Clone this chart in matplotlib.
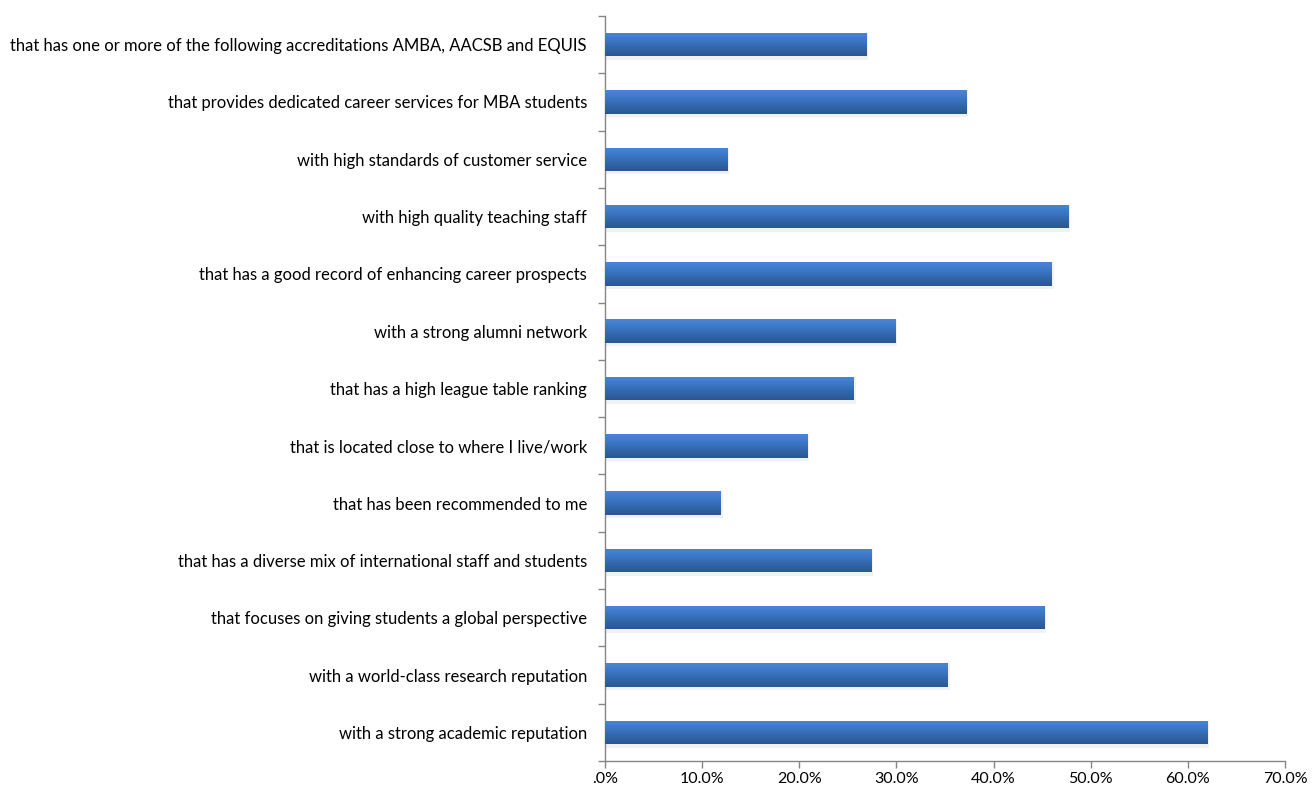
import numpy as np
import matplotlib
matplotlib.use('Agg')
import matplotlib.pyplot as plt
from matplotlib.ticker import FuncFormatter, FixedLocator

# categories listed bottom -> top
labels = [
    'with a strong academic reputation',
    'with a world-class research reputation',
    'that focuses on giving students a global perspective',
    'that has a diverse mix of international staff and students',
    'that has been recommended to me',
    'that is located close to where I live/work',
    'that has a high league table ranking',
    'with a strong alumni network',
    'that has a good record of enhancing career prospects',
    'with high quality teaching staff',
    'with high standards of customer service',
    'that provides dedicated career services for MBA students',
    'that has one or more of the following accreditations AMBA, AACSB and EQUIS',
]
values = [62.0, 35.3, 45.2, 27.4, 11.9, 20.8, 25.6, 29.9, 46.0, 47.7, 12.6, 37.2, 26.9]
xticks = [0, 10, 20, 30, 40, 50, 60, 70]

plt.rcParams['font.family'] = ['Lato', 'DejaVu Sans']

fig = plt.figure(figsize=(13.14, 7.9), dpi=100)
ax = fig.add_axes([0.4604, 0.0367, 0.5176, 0.943])

ypos = np.arange(len(labels))
bar_h = 0.41
bars = ax.barh(ypos, values, height=bar_h, color='#3a6fb8', zorder=2)

# gradient fill on each bar (light top, darker bottom), with a soft shadow
grad = np.linspace(0, 1, 64).reshape(-1, 1)
cmap = matplotlib.colors.LinearSegmentedColormap.from_list(
    'bar', ['#4a86d4', '#3c78c8', '#3266aa', '#2b5790'])
for b, v, y in zip(bars, values, ypos):
    ax.barh(y - 0.03, v + 0.2, height=bar_h + 0.06, color='#e4e4e4',
            alpha=0.5, zorder=1)
    im = ax.imshow(grad, cmap=cmap, aspect='auto', zorder=3,
                   extent=[0, v, y - bar_h / 2, y + bar_h / 2], origin='upper')
    im.set_clip_path(b)

ax.set_xlim(0, 70)
ax.set_ylim(-0.5, len(labels) - 0.5)

ax.set_xticks(xticks)
ax.xaxis.set_major_formatter(FuncFormatter(
    lambda x, p: '.0%' if x == 0 else '%.1f%%' % x))
ax.set_yticks(ypos)
ax.set_yticklabels(labels)
ax.yaxis.set_minor_locator(FixedLocator(np.arange(-0.5, len(labels), 1.0)))

ax.tick_params(axis='y', which='major', length=0, pad=13, labelsize=12,
               labelcolor='#000000')
ax.tick_params(axis='y', which='minor', length=5, width=1, color='#868686')
ax.tick_params(axis='x', length=5, width=1, color='#868686', labelsize=11.5,
               pad=3)

for s in ['top', 'right']:
    ax.spines[s].set_visible(False)
for s in ['left', 'bottom']:
    ax.spines[s].set_color('#868686')
    ax.spines[s].set_linewidth(1)

fig.savefig('out.png', dpi=100)
